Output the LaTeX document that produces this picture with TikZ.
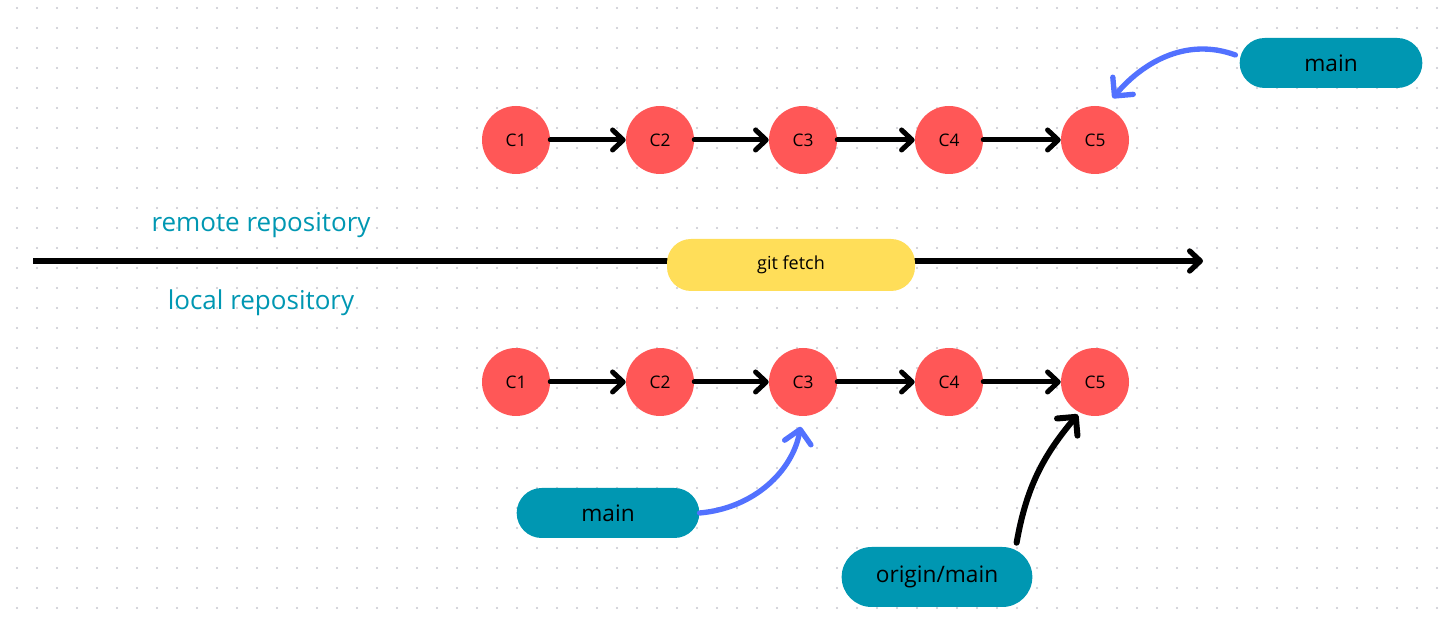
\documentclass[tikz,border=0pt]{standalone}
\usepackage{fontspec}
\setmainfont{Open Sans}
\usepackage{xcolor}
\usetikzlibrary{arrows.meta,positioning,calc}

\definecolor{commitred}{HTML}{FF5757}
\definecolor{branchteal}{HTML}{0097B2}
\definecolor{fetchyellow}{HTML}{FFDE59}
\definecolor{pointblue}{HTML}{5271FF}
\definecolor{griddot}{HTML}{C6C6CE}

\tikzset{
  commit/.style={circle, fill=commitred, minimum size=51pt, inner sep=0pt,
    font=\fontsize{13}{15}\selectfont},
  branch/.style={fill=branchteal, rounded corners=18.75pt, minimum width=137pt,
    minimum height=37.5pt, inner sep=0pt, font=\fontsize{17}{20}\selectfont},
  repolabel/.style={text=branchteal, font=\fontsize{19.5}{23}\selectfont},
  link/.style={line width=3.75pt, line cap=round,
    -{Straight Barb[length=8pt,width=15pt,round]}},
  pointer/.style={line width=4pt, line cap=round,
    -{Straight Barb[length=10pt,width=20pt,round]}},
}

\begin{document}
\begin{tikzpicture}[x=0.75pt,y=0.75pt]
  \useasboundingbox (0,0) rectangle (1455,627);

  % Dotted background
  \foreach \i in {0,...,71}
    \foreach \j in {0,...,30}
      \fill[griddot] (17+20*\i,19+20*\j) circle (0.9pt);

  % Commits
  \foreach \n/\x in {1/516,2/660,3/803,4/949,5/1095} {
    \node[commit] (r\n) at (\x,487) {C\n};
    \node[commit] (l\n) at (\x,245) {C\n};
  }
  \foreach \a/\b in {1/2,2/3,3/4,4/5} {
    \draw[link] (r\a) -- (r\b);
    \draw[link] (l\a) -- (l\b);
  }

  % Split between the repositories
  \coordinate (splitstart) at (33,366);
  \coordinate (splitend) at (1203,366);
  \draw[line width=4pt, -{Straight Barb[length=8pt,width=15pt,round]}] (splitstart) -- (splitend);
  \node[fill=fetchyellow, rounded corners=18pt, minimum width=186pt, minimum height=39pt,
    font=\fontsize{13.5}{15}\selectfont] (fetch) at (791,362) {git fetch};

  \node[repolabel] (remote) at (261,402) {remote repository};
  \node[repolabel] (local) at (261,324) {local repository};

  % Branches
  \node[branch] (rmain) at (1331,564) {main};
  \node[branch] (lmain) at (608,114) {main};
  \node[branch, minimum width=143pt, minimum height=45pt, rounded corners=22.5pt]
    (origin) at (937,50) {origin/main};

  \draw[pointer, pointblue, shorten >=9pt] ([shift={(-4,8)}]rmain.west) to[out=160,in=50] (r5.73);
  \draw[pointer, pointblue, shorten >=8pt] (lmain.east) to[out=5,in=-100] (l3.-91);
  \draw[pointer, line width=4.5pt, shorten >=2pt] ([shift={(-16,4)}]origin.north east) to[out=80,in=230] (l5.243);
\end{tikzpicture}
\end{document}
